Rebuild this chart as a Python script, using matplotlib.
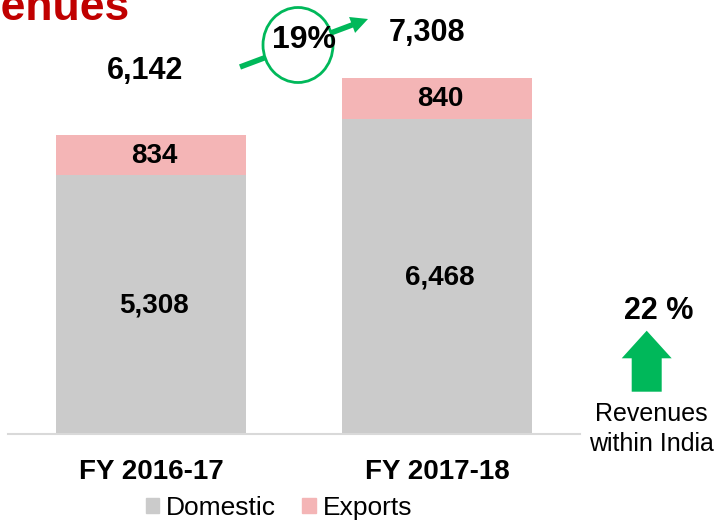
import numpy as np
import matplotlib.pyplot as plt
from matplotlib.patches import Patch, Ellipse, FancyArrow

plt.rcParams['font.family'] = ['Liberation Sans', 'DejaVu Sans']

years = ['FY 2016-17', 'FY 2017-18']
domestic = [5308, 6468]
exports = [834, 840]
totals = [6142, 7308]
growth = '19%'
india_growth = '22 %'

c_dom = '#CBCBCB'
c_exp = '#F4B5B6'
c_green = '#00B85A'

W, H = 716, 521
fig = plt.figure(figsize=(W / 100, H / 100), dpi=100)

# bar area in pixel terms: x 8..580, baseline at y=434
ax = fig.add_axes([8 / W, 1 - 434 / H, 572 / W, 434 / H])
x = np.arange(len(years))
ax.bar(x, domestic, width=0.662, color=c_dom, zorder=2)
ax.bar(x, exports, width=0.662, bottom=domestic, color=c_exp, zorder=2)
ax.set_xlim(-0.5, 1.5)
ax.set_ylim(0, 434 * 7308 / 356)

for i in range(len(years)):
    ax.annotate(f'{domestic[i]:,}', (x[i], domestic[i] / 2), xytext=(3, -1),
                textcoords='offset pixels', ha='center', va='center',
                fontsize=20, fontweight='bold')
    ax.annotate(f'{exports[i]:,}', (x[i], domestic[i] + exports[i] / 2), xytext=(3, -1),
                textcoords='offset pixels', ha='center', va='center',
                fontsize=20, fontweight='bold')

tot_off = [(-6, 64), (-10, 45)]
for i in range(len(years)):
    ax.annotate(f'{totals[i]:,}', (x[i], totals[i]), xytext=tot_off[i],
                textcoords='offset pixels', ha='center', va='center',
                fontsize=22, fontweight='bold', annotation_clip=False)

ax.set_xticks(x)
ax.set_xticklabels(years, fontsize=20, fontweight='bold')
ax.tick_params(axis='x', length=0, pad=18)
ax.set_yticks([])
for s in ['top', 'right', 'left']:
    ax.spines[s].set_visible(False)
ax.spines['bottom'].set_color('#D9D9D9')
ax.spines['bottom'].set_linewidth(1.5)

# overlay in pixel coordinates for the annotations
ov = fig.add_axes([0, 0, 1, 1], zorder=5)
ov.set_xlim(0, W)
ov.set_ylim(H, 0)
ov.axis('off')

ov.add_patch(FancyArrow(240, 67, 128, -48, width=5.5, head_width=17, head_length=17,
                        length_includes_head=True, color=c_green, lw=0))
ov.add_patch(Ellipse((298, 45), 70, 75, facecolor='white', edgecolor=c_green, lw=2))
ov.text(304.5, 40, growth, ha='center', va='center', fontsize=23, fontweight='bold')

ov.add_patch(FancyArrow(646.7, 391.7, 0, -61, width=30, head_width=50, head_length=27.6,
                        length_includes_head=True, color=c_green, lw=0))
ov.text(659, 311, india_growth, ha='center', va='center', fontsize=22, fontweight='bold')
ov.text(651, 429, 'Revenues\nwithin India', ha='center', va='center', fontsize=18,
        linespacing=1.3)

fig.text(-81 / W, 1 - 20 / H, 'Revenues', fontsize=32, fontweight='bold',
         color='#C00000', va='baseline', ha='left')

handles = [Patch(color=c_dom, label='Domestic'), Patch(color=c_exp, label='Exports')]
fig.legend(handles=handles, loc='center', bbox_to_anchor=(279 / W, 1 - 508 / H),
           ncol=2, frameon=False, fontsize=19, handlelength=0.52, handleheight=0.52,
           handletextpad=0.25, columnspacing=1.0, borderpad=0)

fig.savefig('out.png', dpi=100)
